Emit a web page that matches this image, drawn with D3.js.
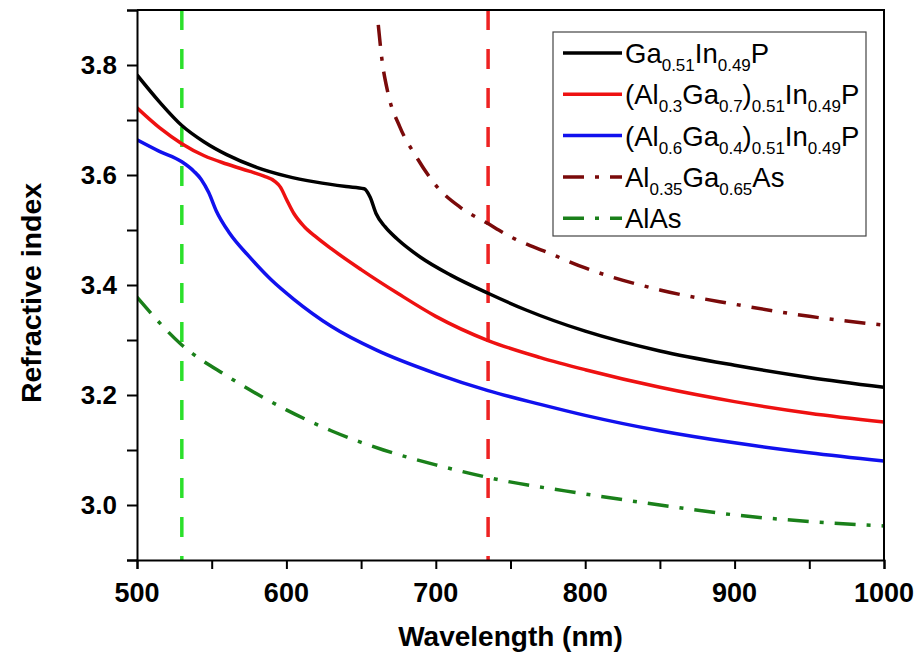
<!DOCTYPE html>
<meta charset="utf-8">
<html>
    <head>
        <title>Refractive index</title>
        <style>
            body { margin: 0; background: #fff; }
            text { font-family: Arial, "Liberation Sans", sans-serif; }
        </style>
    </head>

    <body>
        <div id="viz"></div>

        <script src="https://cdnjs.cloudflare.com/ajax/libs/d3/7.8.5/d3.min.js"></script>
        <script>
            // values
            var gainpWl = [500, 515, 530, 545, 560, 580, 600, 620, 640, 652, 656, 660, 666, 674, 690, 710, 735, 760, 800, 850, 900, 950, 1000];
            var gainpN  = [3.782, 3.733, 3.690, 3.660, 3.637, 3.614, 3.598, 3.587, 3.579, 3.575, 3.560, 3.530, 3.506, 3.484, 3.450, 3.418, 3.385, 3.355, 3.316, 3.280, 3.254, 3.232, 3.214];

            var al3Wl = [500, 515, 530, 545, 560, 575, 585, 592, 596, 600, 605, 612, 620, 630, 650, 675, 700, 735, 770, 800, 850, 900, 950, 1000];
            var al3N  = [3.722, 3.686, 3.657, 3.635, 3.620, 3.607, 3.598, 3.589, 3.578, 3.556, 3.530, 3.506, 3.487, 3.466, 3.428, 3.384, 3.343, 3.299, 3.268, 3.246, 3.214, 3.188, 3.167, 3.151];

            var al6Wl = [500, 515, 530, 538, 543, 548, 553, 562, 575, 590, 605, 630, 660, 700, 735, 770, 800, 850, 900, 950, 1000];
            var al6N  = [3.664, 3.643, 3.624, 3.607, 3.592, 3.568, 3.535, 3.494, 3.452, 3.409, 3.374, 3.325, 3.282, 3.239, 3.208, 3.183, 3.163, 3.135, 3.113, 3.095, 3.080];

            var algaasWl = [661.5, 664, 668, 676, 687, 701, 716, 734, 752, 774, 800, 850, 900, 950, 1000];
            var algaasN  = [3.873, 3.809, 3.749, 3.687, 3.633, 3.578, 3.542, 3.513, 3.485, 3.460, 3.431, 3.391, 3.365, 3.343, 3.327];

            var alasWl = [500, 530, 560, 600, 630, 665, 700, 735, 800, 850, 900, 950, 1000];
            var alasN  = [3.378, 3.291, 3.235, 3.173, 3.135, 3.100, 3.073, 3.050, 3.020, 3.000, 2.982, 2.970, 2.962];

            var markerLines = [530, 735];
            var xTicks = [500, 600, 700, 800, 900, 1000];
            var yTicks = [3.0, 3.2, 3.4, 3.6, 3.8];

            var series = [
                {wl: gainpWl, n: gainpN, color: "#000000", dash: null,
                 label: [["Ga", 0], ["0.51", 1], ["In", 0], ["0.49", 1], ["P", 0]]},
                {wl: al3Wl, n: al3N, color: "#ee1111", dash: null,
                 label: [["(Al", 0], ["0.3", 1], ["Ga", 0], ["0.7", 1], [")", 0], ["0.51", 1], ["In", 0], ["0.49", 1], ["P", 0]]},
                {wl: al6Wl, n: al6N, color: "#1111ee", dash: null,
                 label: [["(Al", 0], ["0.6", 1], ["Ga", 0], ["0.4", 1], [")", 0], ["0.51", 1], ["In", 0], ["0.49", 1], ["P", 0]]},
                {wl: algaasWl, n: algaasN, color: "#7a0a0a", dash: "21,11,4,11",
                 label: [["Al", 0], ["0.35", 1], ["Ga", 0], ["0.65", 1], ["As", 0]]},
                {wl: alasWl, n: alasN, color: "#1a801a", dash: "21,11,4,11",
                 label: [["AlAs", 0]]}
            ];
            var markerColors = ["#2be02b", "#ee2222"];

            var width = 919, height = 658;
            var mLeft = 137, mRight = 884, mTop = 10, mBottom = 560;

            var svg = d3.select("#viz")
                .append("svg")
                .attr("width", width)
                .attr("height", height);

            var x = d3.scaleLinear().domain([500, 1000]).range([mLeft, mRight]);
            var y = d3.scaleLinear().domain([2.9, 3.9]).range([mBottom, mTop]);

            svg.append("clipPath").attr("id", "clip")
                .append("rect")
                .attr("x", mLeft).attr("y", mTop)
                .attr("width", mRight - mLeft).attr("height", mBottom - mTop);

            // vertical dashed markers
            svg.selectAll(".marker")
                .data(markerLines).enter()
                .append("line")
                .attr("x1", function (d) { return x(d); })
                .attr("x2", function (d) { return x(d); })
                .attr("y1", y(3.9))
                .attr("y2", y(2.9))
                .attr("stroke", function (d, i) { return markerColors[i]; })
                .attr("stroke-width", 3.5)
                .attr("stroke-dasharray", "20,19");

            var line = d3.line()
                .x(function (d) { return x(d[0]); })
                .y(function (d) { return y(d[1]); })
                .curve(d3.curveMonotoneX);

            svg.append("g").attr("clip-path", "url(#clip)")
                .selectAll("path")
                .data(series).enter()
                .append("path")
                .attr("d", function (s) { return line(d3.zip(s.wl, s.n)); })
                .attr("fill", "none")
                .attr("stroke", function (s) { return s.color; })
                .attr("stroke-width", 3.5)
                .attr("stroke-dasharray", function (s) { return s.dash; });

            // axes
            var xAxis = svg.append("g")
                .attr("transform", "translate(0," + mBottom + ")")
                .call(d3.axisBottom(x).tickValues(d3.range(500, 1001, 50)).tickSize(9).tickFormat(""));
            svg.append("g")
                .attr("transform", "translate(0," + mBottom + ")")
                .selectAll("text")
                .data(xTicks).enter()
                .append("text")
                .attr("x", function (d) { return x(d); })
                .attr("y", 42)
                .attr("text-anchor", "middle")
                .attr("font-size", 27)
                .attr("font-weight", "bold")
                .text(function (d) { return d; });

            var yAxis = svg.append("g")
                .attr("transform", "translate(" + mLeft + ",0)")
                .call(d3.axisLeft(y).tickValues(d3.range(2.9, 3.91, 0.1)).tickSize(10).tickFormat(""));
            svg.append("g")
                .selectAll("text")
                .data(yTicks).enter()
                .append("text")
                .attr("x", 117)
                .attr("y", function (d) { return y(d) + 9; })
                .attr("text-anchor", "end")
                .attr("font-size", 26)
                .attr("font-weight", "bold")
                .text(function (d) { return d.toFixed(1); });

            [xAxis, yAxis].forEach(function (g) {
                g.select(".domain").attr("stroke-width", 2);
                g.selectAll(".tick line").attr("stroke-width", 2);
            });

            // frame top/right
            svg.append("path")
                .attr("d", "M" + mLeft + "," + mTop + "H" + mRight + "V" + mBottom)
                .attr("fill", "none")
                .attr("stroke", "#000")
                .attr("stroke-width", 2);

            svg.append("text")
                .attr("x", (mLeft + mRight) / 2)
                .attr("y", 646)
                .attr("text-anchor", "middle")
                .attr("font-size", 28)
                .attr("font-weight", "bold")
                .text("Wavelength (nm)");

            svg.append("text")
                .attr("transform", "translate(41," + 293 + ") rotate(-90)")
                .attr("text-anchor", "middle")
                .attr("font-size", 28.5)
                .attr("font-weight", "bold")
                .text("Refractive index");

            // legend
            var legend = svg.append("g");
            legend.append("rect")
                .attr("x", 553).attr("y", 32)
                .attr("width", 313).attr("height", 204)
                .attr("fill", "#fff")
                .attr("stroke", "#444")
                .attr("stroke-width", 1.2);

            var rows = legend.selectAll(".row")
                .data(series).enter()
                .append("g")
                .attr("transform", function (d, i) { return "translate(0," + (53 + i * 41.3) + ")"; });

            rows.append("line")
                .attr("x1", 563).attr("x2", 622)
                .attr("stroke", function (s) { return s.color; })
                .attr("stroke-width", 3.5)
                .attr("stroke-dasharray", function (s) { return s.dash; });

            rows.append("text")
                .attr("x", 625)
                .attr("y", 10)
                .attr("font-size", 27.5)
                .each(function (s) {
                    var t = d3.select(this);
                    var shifted = false;
                    s.label.forEach(function (part) {
                        var sp = t.append("tspan").text(part[0]);
                        if (part[1] && !shifted) {
                            sp.attr("dy", 8).attr("font-size", 17);
                            shifted = true;
                        } else if (part[1]) {
                            sp.attr("font-size", 17);
                        } else if (shifted) {
                            sp.attr("dy", -8);
                            shifted = false;
                        }
                    });
                });
        </script>
    </body>
</html>
